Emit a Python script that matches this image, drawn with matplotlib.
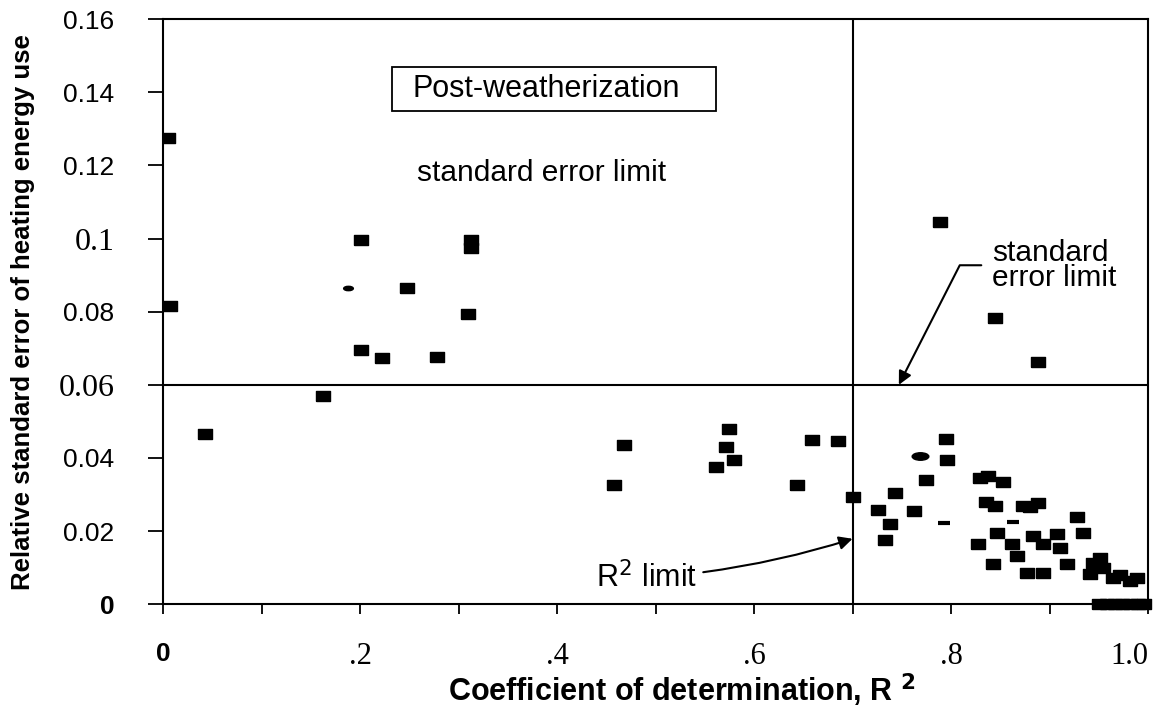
# Erro padrão relativo vs coeficiente de determinação (pós-weatherization)
import numpy as np
import matplotlib.pyplot as plt
from matplotlib.path import Path
from matplotlib.patches import Rectangle

# pontos quadrados (R2, erro padrão relativo)
r2_sq = [0.005, 0.007, 0.043, 0.162, 0.201, 0.248, 0.313, 0.313, 0.310, 0.201, 0.222, 0.278,
         0.468, 0.458, 0.575, 0.572, 0.580, 0.561, 0.659, 0.685, 0.644, 0.700,
         0.789, 0.845, 0.888,
         0.795, 0.796, 0.775, 0.743, 0.762, 0.726, 0.738, 0.733,
         0.829, 0.838, 0.853, 0.835, 0.845, 0.873, 0.888, 0.880, 0.827,
         0.847, 0.862, 0.893, 0.867, 0.883, 0.908, 0.934, 0.911, 0.928,
         0.843, 0.918, 0.877, 0.893, 0.944, 0.951, 0.954, 0.941, 0.964,
         0.982, 0.989, 0.972]
erro_sq = [0.1275, 0.0815, 0.0465, 0.0570, 0.0997, 0.0866, 0.0995, 0.0975, 0.0795, 0.0696, 0.0672, 0.0677,
           0.0435, 0.0325, 0.0478, 0.0430, 0.0395, 0.0375, 0.0450, 0.0445, 0.0325, 0.0293,
           0.1045, 0.0782, 0.0663,
           0.0452, 0.0395, 0.0340, 0.0303, 0.0255, 0.0258, 0.0220, 0.0175,
           0.0345, 0.0352, 0.0335, 0.0280, 0.0268, 0.0269, 0.0278, 0.0265, 0.0165,
           0.0195, 0.0165, 0.0165, 0.0132, 0.0187, 0.0192, 0.0195, 0.0154, 0.0239,
           0.0110, 0.0110, 0.0086, 0.0086, 0.0113, 0.0127, 0.0100, 0.0083, 0.0072,
           0.0064, 0.0072, 0.0080]

# pontos sobre o eixo (erro zero)
r2_zero = [0.950, 0.958, 0.966, 0.974, 0.982, 0.990, 0.996]
erro_zero = [0, 0, 0, 0, 0, 0, 0]

# pontos elípticos e tracinhos
r2_el = [0.188, 0.768]
erro_el = [0.0866, 0.0405]
r2_dash = [0.793, 0.863]
erro_dash = [0.0222, 0.0225]

# limites
lim_r2 = 0.7
lim_erro = 0.06

xticks = [0, 0.2, 0.4, 0.6, 0.8, 1.0]
xlabels = ['0', '.2', '.4', '.6', '.8', '1.0']
yticks = [0, 0.02, 0.04, 0.06, 0.08, 0.1, 0.12, 0.14, 0.16]
ylabels = ['0', '0.02', '0.04', '0.06', '0.08', '0.1', '0.12', '0.14', '0.16']

# marcadores: retângulo e elipse
rect = Path([(-0.7, -0.5), (0.7, -0.5), (0.7, 0.5), (-0.7, 0.5), (-0.7, -0.5)])
circ = Path.unit_circle()
elipse = Path(circ.vertices * np.array([1.0, 0.45]), circ.codes)

fig = plt.figure(figsize=(11.53, 7.10), dpi=100)
ax = fig.add_axes([0.1414, 0.149, 0.8543, 0.824])

ax.plot(r2_sq, erro_sq, linestyle='none', marker=rect, markersize=10, color='black')
ax.plot(r2_zero, erro_zero, linestyle='none', marker=rect, markersize=10, color='black', clip_on=False)
ax.plot(r2_el[:1], erro_el[:1], linestyle='none', marker=elipse, markersize=7, color='black')
ax.plot(r2_el[1:], erro_el[1:], linestyle='none', marker=elipse, markersize=12, color='black')
ax.plot(r2_dash, erro_dash, linestyle='none', marker='_', markersize=9, markeredgewidth=3, color='black')

ax.axhline(lim_erro, color='black', lw=1.5)
ax.axvline(lim_r2, color='black', lw=1.5)

ax.set_xlim(0, 1.0)
ax.set_ylim(0, 0.16)
ax.set_xticks(xticks)
ax.set_xticks([0.1, 0.3, 0.5, 0.7, 0.9], minor=True)
ax.set_yticks(yticks)
ax.set_xticklabels(xlabels)
ax.set_yticklabels(ylabels)
ax.tick_params(axis='x', which='both', direction='out', length=7, width=1.3, pad=20)
ax.tick_params(axis='y', direction='out', length=11, width=1.3, pad=24)

serif_y = ['0.06', '0.1']
for t in ax.get_yticklabels():
    if t.get_text() == '0':
        t.set_fontfamily('Liberation Sans')
        t.set_fontweight('bold')
        t.set_fontsize(19)
    elif t.get_text() in serif_y:
        t.set_fontfamily('Liberation Serif')
        t.set_fontsize(23)
    else:
        t.set_fontfamily('Liberation Sans')
        t.set_fontsize(19)
for t in ax.get_xticklabels():
    if t.get_text() == '0':
        t.set_fontfamily('Liberation Sans')
        t.set_fontweight('bold')
        t.set_fontsize(19)
    else:
        t.set_fontfamily('Liberation Serif')
        t.set_fontsize(22)
    if t.get_text() == '1.0':
        t.set_horizontalalignment('right')

for s in ax.spines.values():
    s.set_linewidth(1.5)

ax.set_xlabel('Coefficient of determination, R $^{\\mathbf{2}}$', fontsize=22, fontfamily='Liberation Sans',
              fontweight='bold')
ax.xaxis.set_label_coords(0.527, -0.115)
ax.set_ylabel('Relative standard error of heating energy use', fontsize=18.5, fontfamily='Liberation Sans',
              fontweight='bold')
ax.yaxis.set_label_coords(-0.13, 0.5)

# caixa do título interno
ax.add_patch(Rectangle((0.2325, 0.135), 0.329, 0.012, facecolor='white', edgecolor='black', lw=1.3))
ax.text(0.253, 0.141, 'Post-weatherization', fontsize=22, fontfamily='Liberation Sans', va='center')
ax.text(0.258, 0.118, 'standard error limit', fontsize=21.5, fontfamily='Liberation Sans', va='center')

ax.annotate('standard\nerror limit', xy=(0.747, lim_erro), xytext=(0.842, 0.0927), fontsize=21.5,
            fontfamily='Liberation Sans', va='center', linespacing=0.85,
            arrowprops=dict(arrowstyle='-|>', color='black', lw=1.5, mutation_scale=20,
                            connectionstyle='angle,angleA=0,angleB=63,rad=0', shrinkA=6, shrinkB=0))
ax.annotate('R$^{2}$ limit', xy=(lim_r2, 0.0179), xytext=(0.44, 0.0072), fontsize=22,
            fontfamily='Liberation Sans', va='center',
            arrowprops=dict(arrowstyle='-|>', color='black', lw=1.5, mutation_scale=20,
                            connectionstyle='arc3,rad=0.06', shrinkA=2, shrinkB=0))

fig.savefig('out.png', dpi=100)
